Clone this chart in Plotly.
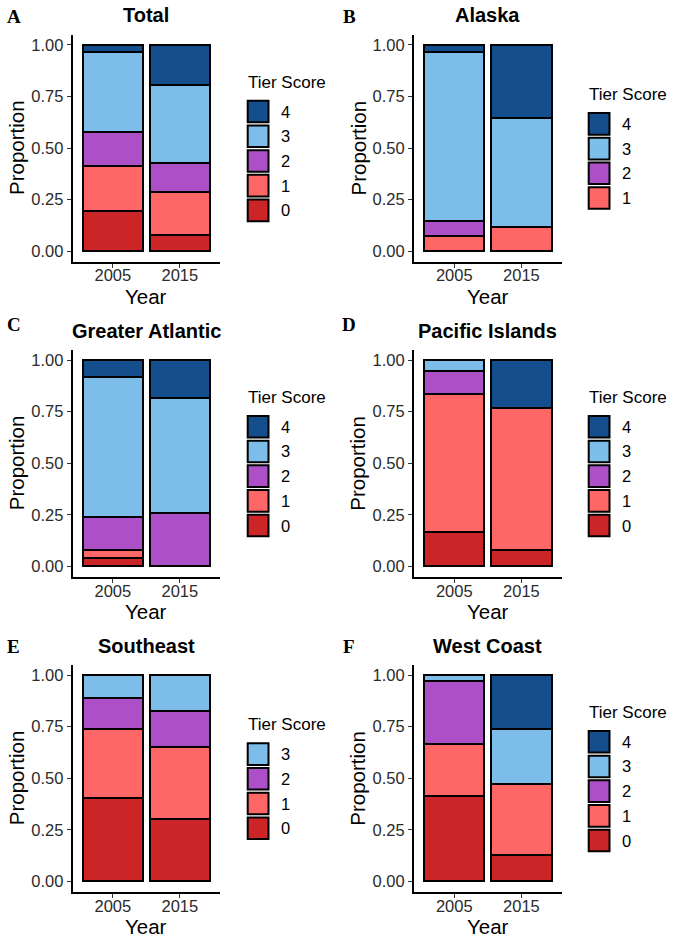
import plotly.graph_objects as go

# ---------------- data ----------------
years = ["2005", "2015"]
tiers = ["0", "1", "2", "3", "4"]
tier_colors = ["#CC2528", "#FF6666", "#AD50C8", "#7CBDE9", "#154E8C"]

panels = ["Total", "Alaska", "Greater Atlantic", "Pacific Islands", "Southeast", "West Coast"]
letters = ["A", "B", "C", "D", "E", "F"]

# proportions per tier (index = year) ; None = tier absent
total_t0 = [0.195, 0.080]
total_t1 = [0.218, 0.207]
total_t2 = [0.166, 0.138]
total_t3 = [0.385, 0.380]
total_t4 = [0.036, 0.195]

alaska_t0 = [None, None]
alaska_t1 = [0.074, 0.115]
alaska_t2 = [0.074, None]
alaska_t3 = [0.815, 0.532]
alaska_t4 = [0.037, 0.353]

atlantic_t0 = [0.040, None]
atlantic_t1 = [0.041, None]
atlantic_t2 = [0.158, 0.260]
atlantic_t3 = [0.680, 0.554]
atlantic_t4 = [0.081, 0.186]

pacific_t0 = [0.167, 0.077]
pacific_t1 = [0.667, 0.692]
pacific_t2 = [0.111, None]
pacific_t3 = [0.055, None]
pacific_t4 = [None, 0.231]

southeast_t0 = [0.406, 0.300]
southeast_t1 = [0.333, 0.352]
southeast_t2 = [0.151, 0.176]
southeast_t3 = [0.110, 0.172]
southeast_t4 = [None, None]

westcoast_t0 = [0.414, 0.129]
westcoast_t1 = [0.251, 0.345]
westcoast_t2 = [0.306, None]
westcoast_t3 = [0.029, 0.264]
westcoast_t4 = [None, 0.262]

panel_data = [
    [total_t0, total_t1, total_t2, total_t3, total_t4],
    [alaska_t0, alaska_t1, alaska_t2, alaska_t3, alaska_t4],
    [atlantic_t0, atlantic_t1, atlantic_t2, atlantic_t3, atlantic_t4],
    [pacific_t0, pacific_t1, pacific_t2, pacific_t3, pacific_t4],
    [southeast_t0, southeast_t1, southeast_t2, southeast_t3, southeast_t4],
    [westcoast_t0, westcoast_t1, westcoast_t2, westcoast_t3, westcoast_t4],
]

y_tickvals = [0, 0.25, 0.5, 0.75, 1.0]
y_ticktext = ["0.00", "0.25", "0.50", "0.75", "1.00"]

# ---------------- layout geometry (pixels) ----------------
W, H = 685, 946
col_x = [(72.7, 220.0), (414.0, 561.7)]
row_bottom = [261.5, 576.7, 891.7]
row_h = 227.0
letter_y = [17.0, 324.3, 646.7]
letter_x = [13.7, 349.0]
ytitle_x = [16.0, 357.5]
legend_key_x = [247.7, 588.7]

SANS = "Liberation Sans, Arial, sans-serif"
SERIF = "Liberation Serif, Times New Roman, serif"


def fx(px):
    return px / W


def fy(py):
    return 1 - py / H


fig = go.Figure()
annotations = []
shapes = []

for p, name in enumerate(panels):
    r, c = divmod(p, 2)
    idx = p + 1
    xa = "x" if idx == 1 else f"x{idx}"
    ya = "y" if idx == 1 else f"y{idx}"
    x0, x1 = col_x[c]
    yb = row_bottom[r]
    yt = yb - row_h
    data = panel_data[p]
    present = []
    for t, tier in enumerate(tiers):
        vals = data[t]
        if all(v is None for v in vals):
            continue
        present.append(t)
        fig.add_trace(go.Bar(
            x=years, y=vals, name=tier, xaxis=xa, yaxis=ya,
            marker=dict(color=tier_colors[t], line=dict(color="black", width=2)),
            width=0.9, showlegend=False, hoverinfo="x+y+name",
        ))

    axis_common = dict(showline=True, linecolor="black", linewidth=2, ticks="outside",
                       ticklen=4, tickwidth=1.2, tickcolor="#333333", showgrid=False,
                       zeroline=False, tickfont=dict(family=SANS, size=16.5, color="#2b2b2b"))
    fig.layout[("xaxis" if idx == 1 else f"xaxis{idx}")] = dict(
        domain=[fx(x0), fx(x1)], anchor=ya, type="category", range=[-0.6, 1.6],
        fixedrange=True, ticklabelstandoff=-6, **axis_common)
    fig.layout[("yaxis" if idx == 1 else f"yaxis{idx}")] = dict(
        domain=[fy(yb), fy(yt)], anchor=xa, range=[-0.05, 1.05],
        tickvals=y_tickvals, ticktext=y_ticktext, fixedrange=True, **axis_common)

    y_one = yt + 0.05 / 1.1 * row_h
    yc = (yt + yb) / 2
    xc = (x0 + x1) / 2
    # panel title
    annotations.append(dict(text=f"<b>{name}</b>", x=fx(xc), y=fy(y_one - 29.5), xref="paper",
                            yref="paper", showarrow=False, xanchor="center", yanchor="middle",
                            font=dict(family=SANS, size=20, color="black")))
    # letter
    annotations.append(dict(text=f"<b>{letters[p]}</b>", x=fx(letter_x[c]), y=fy(letter_y[r]),
                            xref="paper", yref="paper", showarrow=False, xanchor="center",
                            yanchor="middle", font=dict(family=SERIF, size=19, color="black")))
    # axis titles
    annotations.append(dict(text="Proportion", x=fx(ytitle_x[c]), y=fy(yc), xref="paper",
                            yref="paper", showarrow=False, textangle=-90, xanchor="center",
                            yanchor="middle", font=dict(family=SANS, size=20.5, color="black")))
    annotations.append(dict(text="Year", x=fx(xc), y=fy(yb + 34.5), xref="paper", yref="paper",
                            showarrow=False, xanchor="center", yanchor="middle",
                            font=dict(family=SANS, size=20.5, color="black")))

    # legend (top tier first)
    n = len(present)
    pitch = 24.7
    block_h = 26 + n * pitch
    top = yc - block_h / 2
    kx = legend_key_x[c]
    annotations.append(dict(text="Tier Score", x=fx(kx - 2), y=fy(top + 9), xref="paper",
                            yref="paper", showarrow=False, xanchor="left", yanchor="middle",
                            font=dict(family=SANS, size=17, color="black")))
    for k, t in enumerate(reversed(present)):
        ky0 = top + 26 + k * pitch + 1.5
        ky1 = ky0 + 21.6
        shapes.append(dict(type="rect", xref="paper", yref="paper",
                           x0=fx(kx), x1=fx(kx + 20.8), y0=fy(ky1), y1=fy(ky0),
                           fillcolor=tier_colors[t], line=dict(color="black", width=2)))
        annotations.append(dict(text=tiers[t], x=fx(kx + 31), y=fy((ky0 + ky1) / 2),
                                xref="paper", yref="paper", showarrow=False, xanchor="left",
                                yanchor="middle",
                                font=dict(family=SANS, size=16.5, color="black")))

fig.update_layout(
    width=W, height=H, barmode="stack", bargap=0.1,
    margin=dict(l=0, r=0, t=0, b=0),
    paper_bgcolor="white", plot_bgcolor="white",
    showlegend=False, annotations=annotations, shapes=shapes,
    font=dict(family=SANS),
)

fig.write_html("out.html", config={"displayModeBar": False},
               post_script="document.body.style.margin='0';document.body.style.padding='0';")
